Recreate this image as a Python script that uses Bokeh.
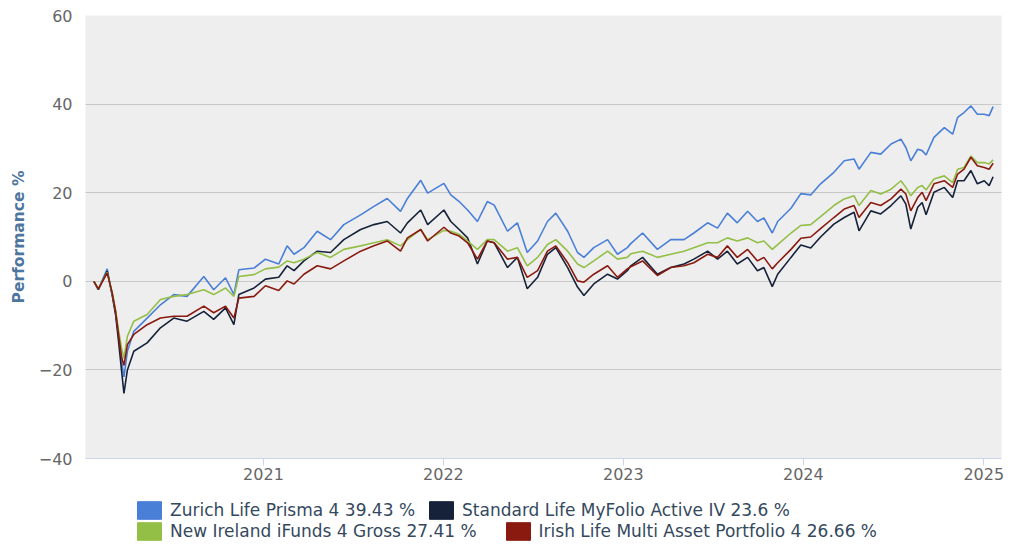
import pandas as pd
from bokeh.plotting import figure
from bokeh.layouts import column
from bokeh.models import Range1d, FixedTicker, DatetimeTickFormatter, Legend, LegendItem
from bokeh.embed import file_html
from bokeh.resources import INLINE

# ---------------- data ----------------
dates = [
    "2020-01-23", "2020-02-01", "2020-02-19", "2020-02-29", "2020-03-07", "2020-03-13", "2020-03-19",
    "2020-03-24", "2020-03-31", "2020-04-13", "2020-05-10", "2020-06-06", "2020-07-03", "2020-07-30",
    "2020-09-02", "2020-09-22", "2020-10-16", "2020-11-02", "2020-11-12", "2020-12-13",
    "2021-01-05", "2021-02-01", "2021-02-18", "2021-03-04", "2021-03-24", "2021-04-20", "2021-05-17",
    "2021-06-13", "2021-07-17", "2021-08-13", "2021-09-09", "2021-10-06", "2021-10-20", "2021-11-16",
    "2021-11-30",
    "2022-01-02", "2022-01-16", "2022-02-02", "2022-02-19", "2022-03-11", "2022-03-31", "2022-04-14",
    "2022-05-11", "2022-05-31", "2022-06-20", "2022-07-11", "2022-07-31", "2022-08-17", "2022-09-10",
    "2022-09-30", "2022-10-13", "2022-11-02", "2022-11-30", "2022-12-20",
    "2023-01-09", "2023-01-16", "2023-02-09", "2023-03-11", "2023-04-07", "2023-05-04", "2023-05-24",
    "2023-06-21", "2023-07-11", "2023-07-31", "2023-08-20", "2023-09-10", "2023-09-30", "2023-10-13",
    "2023-10-30", "2023-11-10", "2023-12-07", "2023-12-27",
    "2024-01-16", "2024-02-05", "2024-03-03", "2024-03-24", "2024-04-13", "2024-04-23", "2024-05-17",
    "2024-06-06", "2024-06-27", "2024-07-17", "2024-07-27", "2024-08-06", "2024-08-20", "2024-08-29",
    "2024-09-06", "2024-09-22", "2024-10-13", "2024-10-30", "2024-11-09", "2024-11-22", "2024-12-06",
    "2024-12-19",
    "2025-01-02", "2025-01-12", "2025-01-20",
]

zurich = [
    0, -1.9, 2.8, -3, -7, -12, -18, -21.6, -15.8, -11.3, -8.3, -5.3, -3, -3.4, 1.1, -1.9, 0.8, -3, 2.6, 3,
    5, 3.9, 8, 6.1, 7.6, 11.3, 9.4, 12.8, 15, 16.9, 18.7, 15.8, 18.7, 22.8, 19.9,
    22.1, 19.5, 18, 16.1, 13.5, 18, 17.2, 11.3, 13.2, 6.5, 9.1, 13.5, 15.4, 11.3, 6.5, 5.4, 7.6, 9.4, 6.1,
    7.6, 8.5, 10.9, 7.2, 9.4, 9.4, 10.9, 13.2, 12, 15.4, 13.2, 15.8, 13.5, 14.3, 10.9, 13.5, 16.5, 19.8,
    19.5, 22, 24.6, 27.2, 27.6, 25.3, 29.1, 28.7, 31, 32.1, 30.2, 27.2, 29.8, 29.5, 28.5, 32.5, 34.7, 33.2,
    37, 38.1, 39.6, 37.7,
    37.7, 37.4, 39.43,
]

standard_life = [
    0, -1.9, 2.3, -3, -7.5, -13.5, -20, -25.3, -20, -15.8, -13.9, -10.5, -8.3, -9, -6.8, -8.6, -6, -9.8, -3, -1.5,
    0.5, 0.9, 3.5, 2.4, 4.6, 6.8, 6.5, 9.4, 11.7, 12.8, 13.5, 10.9, 13.2, 16.1, 12.8,
    16.1, 13.5, 11.7, 9.8, 3.9, 9.1, 8.7, 3.1, 5.4, -1.7, 0.9, 6.1, 7.6, 3.1, -1.3, -3.2, -0.6, 1.6, 0.5,
    2.4, 3.5, 5.4, 1.6, 3.1, 3.9, 5, 6.8, 5, 6.8, 3.9, 5.4, 2.4, 3.1, -1.2, 1.6, 5.4, 8.2,
    7.5, 10, 12.9, 14.4, 15.6, 11.4, 15.9, 15.2, 17.1, 19.3, 17.4, 11.8, 16.7, 17.8, 15, 20.1, 21.2, 18.9,
    22.7, 22.7, 25, 22,
    22.7, 21.6, 23.6,
]

new_ireland = [
    0, -1.7, 2.0, -2.5, -6.5, -11, -15, -17.4, -12.4, -9, -7.5, -4.1, -3.4, -3, -1.9, -3, -1.5, -3.4, 1.1, 1.5,
    2.8, 3.2, 4.6, 4.2, 5, 6.5, 5.4, 7.2, 8, 8.7, 9.4, 8, 9.4, 11.7, 9.4,
    11.5, 11.3, 10.6, 9.1, 7.2, 9.4, 9.4, 6.8, 7.6, 3.5, 5.4, 8.3, 9.4, 6.8, 3.9, 3.1, 4.6, 6.8, 5,
    5.4, 6.2, 6.8, 5.4, 6.1, 6.8, 7.6, 8.7, 8.7, 9.8, 9.1, 9.8, 8.7, 9.1, 7.2, 8.3, 10.9, 12.6,
    12.8, 14.6, 17.1, 18.6, 19.3, 17.1, 20.5, 19.7, 20.8, 22.7, 21.2, 19.3, 21.2, 21.6, 20.6, 23.1, 23.8, 22.3,
    25.3, 25.7, 28.3, 26.8,
    26.8, 26.5, 27.41,
]

irish_life = [
    0, -1.7, 1.9, -2.5, -6.8, -12, -17, -19, -14.3, -12, -9.8, -8.3, -7.9, -7.9, -5.6, -7.1, -5.6, -8.3, -3.8, -3.4,
    -1, -2.1, 0.1, -0.6, 1.6, 3.5, 2.8, 4.6, 6.8, 8, 9.1, 6.8, 9.8, 11.7, 9.1,
    12.2, 10.9, 10.2, 8.7, 5, 9.1, 8.7, 5, 5.4, 0.9, 2.4, 6.8, 8, 4.2, 0.1, -0.2, 1.6, 3.5, 0.9,
    2.8, 3.3, 4.6, 1.3, 3.1, 3.5, 4.2, 6.1, 5.4, 8, 5.4, 7.2, 4.6, 5.4, 2.8, 4.2, 7.2, 9.7,
    10, 11.9, 14.4, 16.3, 17.1, 14.4, 17.8, 17.1, 18.6, 20.8, 19.7, 15.9, 18.9, 20.1, 18.2, 22, 22.7, 21.2,
    24.2, 25.3, 28, 26.1,
    25.7, 25.3, 26.66,
]

series_names = [
    "Zurich Life Prisma 4 39.43 %",
    "Standard Life MyFolio Active IV 23.6 %",
    "New Ireland iFunds 4 Gross 27.41 %",
    "Irish Life Multi Asset Portfolio 4 26.66 %",
]
series_colors = ["#4a7fd8", "#16223a", "#94bf47", "#8a1a10"]
tick_years = [2021, 2022, 2023, 2024, 2025]
y_ticks = [-40, -20, 0, 20, 40, 60]

for s in (zurich, standard_life, new_ireland, irish_life):
    assert len(s) == len(dates)

# ---------------- main chart ----------------
x = pd.to_datetime(dates)
FONT = "DejaVu Sans"

p = figure(
    x_axis_type="datetime",
    width=1016, height=496,
    min_border_left=85, min_border_right=15, min_border_top=15, min_border_bottom=38,
    x_range=Range1d(pd.Timestamp("2020-01-06"), pd.Timestamp("2025-02-06")),
    y_range=Range1d(-40, 60),
    output_backend="svg", toolbar_location=None,
)
p.background_fill_color = "#eeeeee"
p.border_fill_color = "white"
p.outline_line_color = None

p.xgrid.visible = False
p.ygrid.grid_line_color = "#c8c8c8"
p.ygrid.grid_line_width = 1

# x axis
p.xaxis.ticker = FixedTicker(ticks=[pd.Timestamp(f"{yr}-01-01").value / 1e6 for yr in tick_years])
p.xaxis.formatter = DatetimeTickFormatter(years="%Y", months="%Y", days="%Y", hours="%Y")
p.xaxis.axis_line_color = "#ccd6eb"
p.xaxis.major_tick_line_color = "#ccd6eb"
p.xaxis.major_tick_out = 7
p.xaxis.major_tick_in = 0
p.xaxis.minor_tick_line_color = None
p.xaxis.minor_tick_out = 0
p.xaxis.major_label_text_color = "#666666"
p.xaxis.major_label_text_font = FONT
p.xaxis.major_label_text_font_size = "16px"
p.xaxis.major_label_standoff = 2

# y axis
p.yaxis.ticker = FixedTicker(ticks=y_ticks)
p.yaxis.axis_line_color = None
p.yaxis.major_tick_line_color = None
p.yaxis.minor_tick_line_color = None
p.yaxis.major_tick_out = 0
p.yaxis.minor_tick_out = 0
p.yaxis.major_label_text_color = "#666666"
p.yaxis.major_label_text_font = FONT
p.yaxis.major_label_text_font_size = "16px"
p.yaxis.major_label_standoff = 13
p.yaxis.axis_label = "Performance %"
p.yaxis.axis_label_text_font = FONT
p.yaxis.axis_label_text_font_style = "bold"
p.yaxis.axis_label_text_font_size = "15.5px"
p.yaxis.axis_label_text_color = "#4d759e"
p.yaxis.axis_label_standoff = 8

# series lines
for vals, col in zip((zurich, standard_life, new_ireland, irish_life), series_colors):
    p.line(x, vals, line_color=col, line_width=1.6)

# ---------------- legend strip ----------------
lg = figure(
    width=1016, height=56,
    x_range=Range1d(0, 1), y_range=Range1d(0, 1),
    min_border=0, x_axis_location=None, y_axis_location=None,
    output_backend="svg", toolbar_location=None,
)
lg.outline_line_color = None
lg.grid.visible = False
lg.background_fill_color = "white"
lg.border_fill_color = "white"

# hidden renderers that only supply the legend swatches
swatches = [
    lg.rect(x=[0.5], y=[0.5], width=0.01, height=0.01, fill_color=c, line_color=c, visible=False)
    for c in series_colors
]


def make_legend(idx, loc, spacing):
    return Legend(
        items=[LegendItem(label=series_names[i], renderers=[swatches[i]]) for i in idx],
        orientation="horizontal", location=loc,
        glyph_width=30, glyph_height=22, label_standoff=6, spacing=spacing,
        padding=0, margin=0,
        border_line_color=None, background_fill_alpha=0,
        inactive_fill_alpha=0,
        label_text_font=FONT, label_text_font_size="17px", label_text_color="#34495e",
        label_height=18,
    )


lg.add_layout(make_legend([0, 1], (49, 31), 11))
lg.add_layout(make_legend([2, 3], (49, 10), 26))

layout = column(p, lg, spacing=0)
open("out.html", "w").write(file_html(layout, INLINE))
